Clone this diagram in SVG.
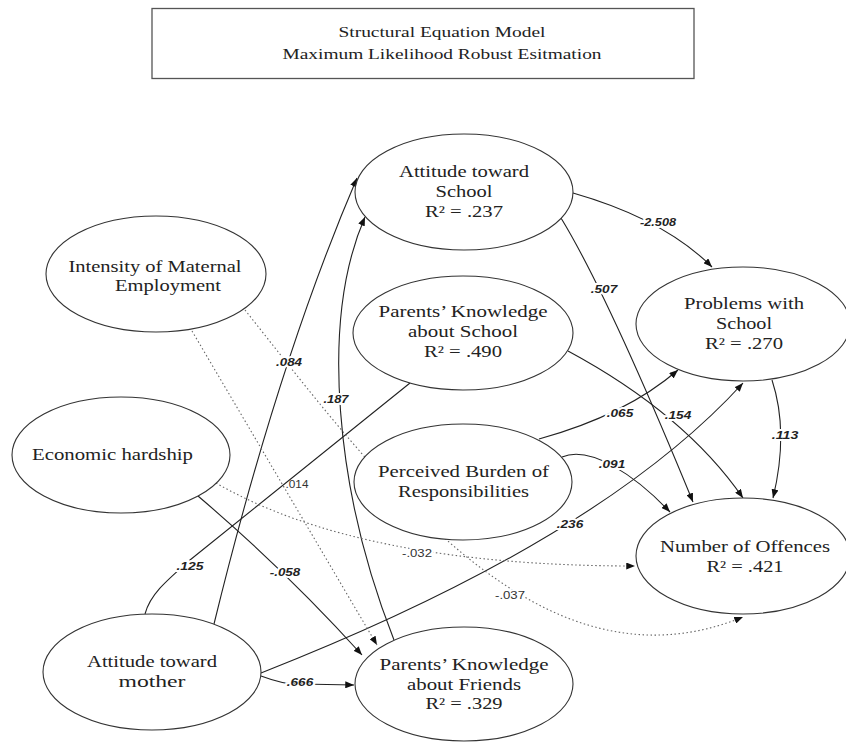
<svg xmlns="http://www.w3.org/2000/svg" width="846" height="742" viewBox="0 0 846 742">
<style>
.node ellipse{fill:#fff;stroke:#333;stroke-width:1.1}
.nt{font-family:"Liberation Serif","Times New Roman",serif;font-size:16.5px;fill:#222;text-anchor:middle}
.tt{font-family:"Liberation Serif","Times New Roman",serif;font-size:15px;fill:#222;text-anchor:middle}
.ln{fill:none;stroke:#222;stroke-width:1.1}
.dt{fill:none;stroke:#666;stroke-width:1.1;stroke-dasharray:1.5 2.5}
.lb{font-family:"Liberation Sans",Arial,sans-serif;font-size:11.5px;font-weight:bold;font-style:italic;fill:#222;text-anchor:middle;stroke:#fff;stroke-width:4;paint-order:stroke}
.lr{font-family:"Liberation Sans",Arial,sans-serif;font-size:11px;fill:#333;text-anchor:middle}
.lrh{stroke:#fff;stroke-width:4;paint-order:stroke}
</style>
<defs>
<marker id="ah" viewBox="0 0 10 8" refX="10" refY="4" markerWidth="9" markerHeight="7" markerUnits="userSpaceOnUse" orient="auto"><path d="M0,0 L10,4 L0,8 z" fill="#111"/></marker>
</defs>
<rect width="846" height="742" fill="#fff"/>
<g id="title">
<rect x="152" y="8.5" width="542" height="70" fill="#fff" stroke="#555" stroke-width="1.3"/>
<text class="tt" x="442" y="37" textLength="207" lengthAdjust="spacingAndGlyphs">Structural Equation Model</text>
<text class="tt" x="442" y="59" textLength="319" lengthAdjust="spacingAndGlyphs">Maximum Likelihood Robust Esitmation</text>
</g>
<g id="connectors">
<path class="ln" d="M214,624 Q278,362 357,178" marker-end="url(#ah)"/>
<path class="ln" d="M394,640 C335,490 320,320 365,217" marker-end="url(#ah)"/>
<path class="ln" d="M573,193 Q664,219 712,267" marker-end="url(#ah)"/>
<path class="ln" d="M561,218 Q608,295 693,502" marker-end="url(#ah)"/>
<path class="ln" d="M568,351 Q685,414 743,498" marker-end="url(#ah)"/>
<path class="ln" d="M772,380 Q789,432 773,498" marker-end="url(#ah)"/>
<path class="ln" d="M539,439 Q626,415 678,370" marker-end="url(#ah)"/>
<path class="ln" d="M562,457 C590,445 635,475 670,512" marker-end="url(#ah)"/>
<path class="ln" d="M261,673 Q600,540 743,383" marker-end="url(#ah)"/>
<path class="ln" d="M145,614 C150,595 165,582 190,560 L410,383"/>
<path class="ln" d="M198,496 Q285,570 362,655" marker-end="url(#ah)"/>
<path class="ln" d="M261,676 Q285,685 300,684 L354,685" marker-end="url(#ah)"/>
<path class="dt" d="M192,331 L377,645" marker-end="url(#ah)"/>
<path class="dt" d="M245,310 C380,480 540,700 743,617" marker-end="url(#ah)"/>
<path class="dt" d="M216,483 Q360,566 635,566" marker-end="url(#ah)"/>
<text class="lb" x="289" y="366" textLength="26" lengthAdjust="spacingAndGlyphs">.084</text>
<text class="lb" x="336" y="403" textLength="25" lengthAdjust="spacingAndGlyphs">.187</text>
<text class="lb" x="658" y="226" textLength="36" lengthAdjust="spacingAndGlyphs">-2.508</text>
<text class="lb" x="604" y="293" textLength="26.5" lengthAdjust="spacingAndGlyphs">.507</text>
<text class="lb" x="678" y="419" textLength="26.5" lengthAdjust="spacingAndGlyphs">.154</text>
<text class="lb" x="785" y="439" textLength="26.5" lengthAdjust="spacingAndGlyphs">.113</text>
<text class="lb" x="620" y="417" textLength="26.5" lengthAdjust="spacingAndGlyphs">.065</text>
<text class="lb" x="612" y="468" textLength="26.5" lengthAdjust="spacingAndGlyphs">.091</text>
<text class="lb" x="570" y="528" textLength="26.5" lengthAdjust="spacingAndGlyphs">.236</text>
<text class="lb" x="190" y="570" textLength="27" lengthAdjust="spacingAndGlyphs">.125</text>
<text class="lb" x="285" y="576" textLength="30.5" lengthAdjust="spacingAndGlyphs">-.058</text>
<text class="lb" x="300" y="686" textLength="26.5" lengthAdjust="spacingAndGlyphs">.666</text>
<text class="lr" x="297" y="488" textLength="23" lengthAdjust="spacingAndGlyphs">.014</text>
<text class="lr lrh" x="417" y="557" textLength="30" lengthAdjust="spacingAndGlyphs">-.032</text>
<text class="lr lrh" x="510" y="599" textLength="30" lengthAdjust="spacingAndGlyphs">-.037</text>
</g>
<g id="attitude-school" class="node">
<ellipse cx="464" cy="192" rx="109" ry="58"/>
<text class="nt" x="464" y="177" textLength="130" lengthAdjust="spacingAndGlyphs">Attitude toward</text>
<text class="nt" x="464" y="197" textLength="57" lengthAdjust="spacingAndGlyphs">School</text>
<text class="nt" x="464" y="217" textLength="78" lengthAdjust="spacingAndGlyphs">R² = .237</text>
</g>
<g id="maternal-employment" class="node">
<ellipse cx="156" cy="274" rx="110" ry="58"/>
<text class="nt" x="155" y="272" textLength="173" lengthAdjust="spacingAndGlyphs">Intensity of Maternal</text>
<text class="nt" x="168" y="291" textLength="106" lengthAdjust="spacingAndGlyphs">Employment</text>
</g>
<g id="economic-hardship" class="node">
<ellipse cx="121" cy="455" rx="109" ry="58"/>
<text class="nt" x="112.5" y="460" textLength="161" lengthAdjust="spacingAndGlyphs">Economic hardship</text>
</g>
<g id="knowledge-school" class="node">
<ellipse cx="463" cy="333" rx="110" ry="57"/>
<text class="nt" x="463" y="317" textLength="169" lengthAdjust="spacingAndGlyphs">Parents’ Knowledge</text>
<text class="nt" x="463" y="337" textLength="110" lengthAdjust="spacingAndGlyphs">about School</text>
<text class="nt" x="463" y="357" textLength="78" lengthAdjust="spacingAndGlyphs">R² = .490</text>
</g>
<g id="perceived-burden" class="node">
<ellipse cx="463" cy="482" rx="109" ry="58"/>
<text class="nt" x="463.5" y="477" textLength="171" lengthAdjust="spacingAndGlyphs">Perceived Burden of</text>
<text class="nt" x="463.5" y="497" textLength="131" lengthAdjust="spacingAndGlyphs">Responsibilities</text>
</g>
<g id="problems-school" class="node">
<ellipse cx="743" cy="324" rx="107" ry="57"/>
<text class="nt" x="744" y="309" textLength="120" lengthAdjust="spacingAndGlyphs">Problems with</text>
<text class="nt" x="744" y="329" textLength="56" lengthAdjust="spacingAndGlyphs">School</text>
<text class="nt" x="744" y="349" textLength="78" lengthAdjust="spacingAndGlyphs">R² = .270</text>
</g>
<g id="offences" class="node">
<ellipse cx="743" cy="556" rx="107" ry="58"/>
<text class="nt" x="745" y="552" textLength="170" lengthAdjust="spacingAndGlyphs">Number of Offences</text>
<text class="nt" x="745" y="572" textLength="77" lengthAdjust="spacingAndGlyphs">R² = .421</text>
</g>
<g id="attitude-mother" class="node">
<ellipse cx="152" cy="672" rx="109" ry="58"/>
<text class="nt" x="152" y="667" textLength="130" lengthAdjust="spacingAndGlyphs">Attitude toward</text>
<text class="nt" x="152" y="687" textLength="67" lengthAdjust="spacingAndGlyphs">mother</text>
</g>
<g id="knowledge-friends" class="node">
<ellipse cx="464" cy="684" rx="109" ry="57"/>
<text class="nt" x="464" y="670" textLength="169" lengthAdjust="spacingAndGlyphs">Parents’ Knowledge</text>
<text class="nt" x="464" y="690" textLength="114" lengthAdjust="spacingAndGlyphs">about Friends</text>
<text class="nt" x="464" y="709" textLength="77" lengthAdjust="spacingAndGlyphs">R² = .329</text>
</g>
</svg>
